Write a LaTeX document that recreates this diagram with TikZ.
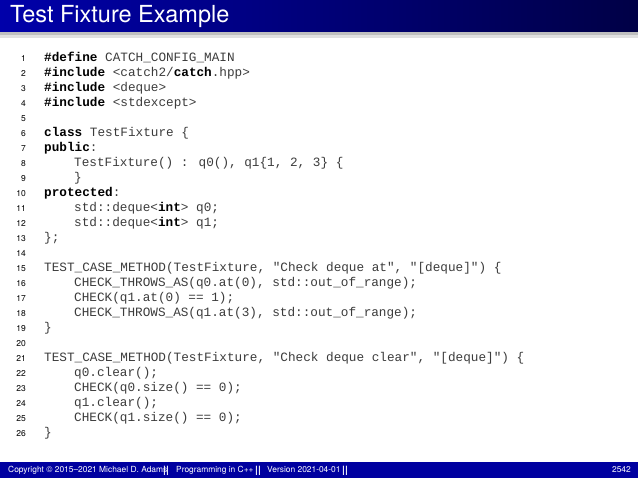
\documentclass[tikz,border=0pt]{standalone}
\usepackage{fontspec}
\setmainfont{TeX Gyre Heros}
\newfontfamily\codefont{Liberation Mono}
\definecolor{hdrA}{RGB}{0,0,170}
\definecolor{hdrB}{RGB}{0,0,70}
\definecolor{foot}{RGB}{0,0,160}
\definecolor{codegray}{RGB}{60,60,60}
\newcommand{\kw}[1]{\textbf{\color{black}#1}}
\newcommand{\ind}{\hspace*{30pt}}
\begin{document}
\begin{tikzpicture}[x=1pt,y=1pt,
  codeline/.style={anchor=base west,inner sep=0pt,font=\codefont\fontsize{12.7}{15}\selectfont,text=codegray},
  lnum/.style={anchor=base east,inner sep=0pt,font=\fontsize{8.5}{10}\selectfont},
  foottext/.style={anchor=base west,inner sep=0pt,font=\fontsize{8.4}{9}\selectfont,text=white},
  sep/.style={foottext,font=\bfseries\fontsize{10}{10}\selectfont}]
\useasboundingbox (0,0) rectangle (638,478);
\fill[white] (0,0) rectangle (638,478);
% header shadow
\fill[black!25] (0,443) rectangle (638,446);
\fill[black!12] (0,440) rectangle (638,443);
\shade[left color=hdrA,right color=hdrB] (0,446) rectangle (638,478);
\node[anchor=base west,inner sep=0pt,text=white,font=\fontsize{23.5}{26}\selectfont] (title) at (10,455) {Test Fixture Example};
% code
\foreach \n/\t in {
1/{\kw{\#define} CATCH\_CONFIG\_MAIN},
2/{\kw{\#include} <catch2/\kw{catch}.hpp>},
3/{\kw{\#include} <deque>},
4/{\kw{\#include} <stdexcept>},
5/{},
6/{\kw{class} TestFixture \{},
7/{\kw{public}:},
8/{\ind TestFixture() : q0(), q1\{1, 2, 3\} \{},
9/{\ind \}},
10/{\kw{protected}:},
11/{\ind std::deque<\kw{int}> q0;},
12/{\ind std::deque<\kw{int}> q1;},
13/{\};},
14/{},
15/{TEST\_CASE\_METHOD(TestFixture, "Check deque at", "[deque]") \{},
16/{\ind CHECK\_THROWS\_AS(q0.at(0), std::out\_of\_range);},
17/{\ind CHECK(q1.at(0) == 1);},
18/{\ind CHECK\_THROWS\_AS(q1.at(3), std::out\_of\_range);},
19/{\}},
20/{},
21/{TEST\_CASE\_METHOD(TestFixture, "Check deque clear", "[deque]") \{},
22/{\ind q0.clear();},
23/{\ind CHECK(q0.size() == 0);},
24/{\ind q1.clear();},
25/{\ind CHECK(q1.size() == 0);},
26/{\}}} {
  \node[lnum] (n\n) at (26,{416-15*(\n-1)}) {\n};
  \node[codeline] (c\n) at (44,{416-15*(\n-1)}) {\strut\t};
}
% footer
\fill[foot] (0,0) rectangle (638,16);
\node[foottext] (f1) at (8,5) {Copyright \textcopyright\ 2015--2021 Michael D. Adams};
\node[sep] (s1) at (163,4.5) {||};
\node[foottext] (f2) at (176,5) {Programming in C++};
\node[sep] (s2) at (255,4.5) {||};
\node[foottext] (f3) at (267,5) {Version 2021-04-01};
\node[sep] (s3) at (342,4.5) {||};
\node[foottext,anchor=base east] (pg) at (631,5) {2542};
\end{tikzpicture}
\end{document}
